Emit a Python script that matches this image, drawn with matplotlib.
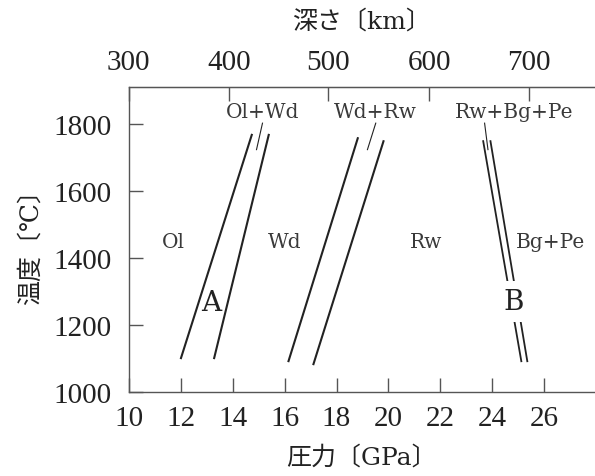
import matplotlib
matplotlib.use("Agg")
import matplotlib.pyplot as plt

plt.rcParams['font.family'] = ['Liberation Serif', 'Noto Sans CJK JP', 'DejaVu Sans']

# phase boundaries: (pressure GPa, temperature C) at both ends
ol_wd_low = [(12.0, 1099), (14.75, 1771)]
ol_wd_high = [(13.28, 1099), (15.40, 1771)]
wd_rw_low = [(16.14, 1090), (18.83, 1761)]
wd_rw_high = [(17.10, 1081), (19.82, 1752)]
rw_bg_low = [(23.64, 1752), (25.12, 1090)]
rw_bg_high = [(23.92, 1752), (25.35, 1090)]

# short leader lines from the labels to the two-phase bands
leaders = [
    [(15.15, 1803), (14.92, 1724)],
    [(19.51, 1803), (19.19, 1724)],
    [(23.70, 1803), (23.83, 1724)],
]

# text labels
field_labels = ['Ol', 'Wd', 'Rw', 'Bg+Pe']
field_pos = [(11.72, 1450), (16.0, 1450), (21.44, 1450), (26.25, 1450)]
band_labels = ['Ol+Wd', 'Wd+Rw', 'Rw+Bg+Pe']
band_pos = [(15.14, 1838), (19.49, 1838), (24.83, 1838)]

# depth axis
depth_km = [300, 400, 500, 600, 700]
depth_gpa = [10.0, 13.85, 17.67, 21.56, 25.40]

x_ticks = [10, 12, 14, 16, 18, 20, 22, 24, 26]
y_ticks = [1000, 1200, 1400, 1600, 1800]

ink = '#222222'
spine_c = '#555555'
label_family = ['DejaVu Serif', 'Noto Sans CJK JP']

fig = plt.figure(figsize=(5.95, 4.77), dpi=100)
ax = fig.add_axes([0.2163, 0.1755, 0.7837, 0.6394])

for seg in [ol_wd_low, ol_wd_high, wd_rw_low, wd_rw_high]:
    xs, ys = zip(*seg)
    ax.plot(xs, ys, color=ink, lw=1.5, solid_capstyle='butt')
for seg in [rw_bg_low, rw_bg_high]:
    xs, ys = zip(*seg)
    ax.plot(xs, ys, color=ink, lw=1.3, solid_capstyle='butt')
for seg in leaders:
    xs, ys = zip(*seg)
    ax.plot(xs, ys, color=ink, lw=0.8)

lab_font = dict(family='DejaVu Serif', fontsize=14.5, color='#3a3a3a',
                ha='center', va='center')
for t, (x, y) in zip(field_labels, field_pos):
    ax.text(x, y, t, **lab_font)
for t, (x, y) in zip(band_labels, band_pos):
    ax.text(x, y, t, **lab_font)

ax.text(13.17, 1269, 'A', family='DejaVu Serif', fontsize=20, color=ink,
        ha='center', va='center')
ax.text(24.82, 1272, 'B', family='DejaVu Serif', fontsize=20, color=ink,
        ha='center', va='center', zorder=5,
        bbox=dict(boxstyle='square,pad=0.25', fc='white', ec='none'))

ax.set_xlim(10, 27.95)
ax.set_ylim(1000, 1910)
ax.set_xticks(x_ticks)
ax.set_yticks(y_ticks)

ax.spines['right'].set_visible(False)
for s in ['left', 'bottom', 'top']:
    ax.spines[s].set_color(spine_c)
    ax.spines[s].set_linewidth(1.0)
ax.tick_params(axis='both', direction='in', length=10, width=1.0,
               color=spine_c, labelsize=21, labelcolor=ink)
ax.tick_params(axis='x', pad=9)
ax.tick_params(axis='y', pad=12)

ax.set_xlabel('圧力〔GPa〕', family=label_family, fontsize=18, color=ink, labelpad=10)
ax.set_ylabel('温度〔℃〕', family=label_family, fontsize=18, color=ink, labelpad=8)

ax2 = ax.twiny()
ax2.set_position(ax.get_position())
ax2.set_xlim(ax.get_xlim())
ax2.set_xticks(depth_gpa, labels=[str(d) for d in depth_km])
for s in ['left', 'bottom', 'right']:
    ax2.spines[s].set_visible(False)
ax2.spines['top'].set_color(spine_c)
ax2.tick_params(axis='x', direction='in', length=10, width=1.0,
                color=spine_c, labelsize=21, labelcolor=ink, pad=9)
ax2.set_xlabel('深さ〔km〕', family=label_family, fontsize=18, color=ink, labelpad=15)

fig.savefig('out.png', dpi=100)
